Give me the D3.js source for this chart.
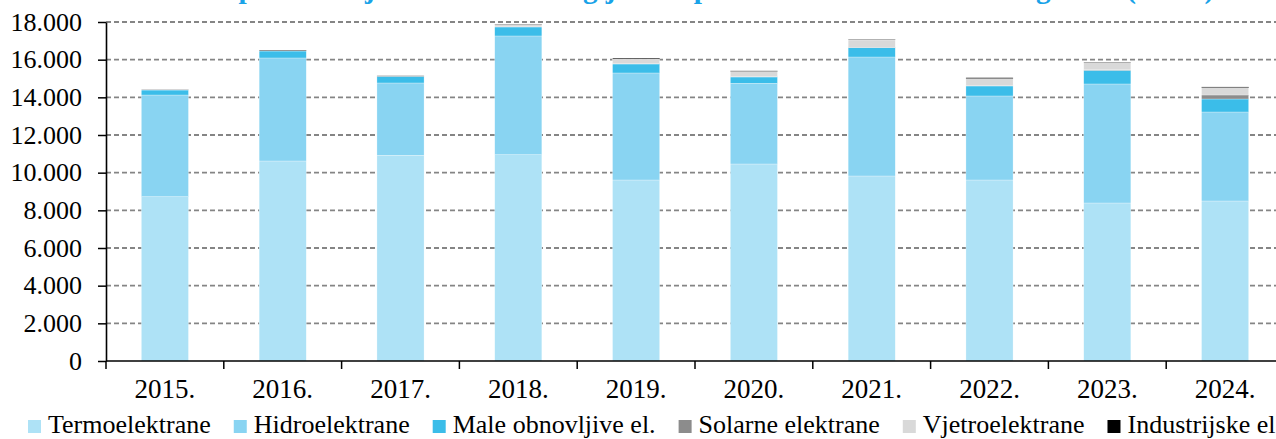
<!DOCTYPE html>
<html>
<head>
<meta charset="utf-8">
<script src="https://cdn.jsdelivr.net/npm/d3@7"></script>
<style>
  body { margin: 0; background: #fff; }
  svg { display: block; }
  svg text { font-family: "Liberation Serif", "Times New Roman", serif; }
</style>
</head>
<body>
<svg id="chart" width="1276" height="439"></svg>
<script>
const years = ['2015.', '2016.', '2017.', '2018.', '2019.', '2020.', '2021.', '2022.', '2023.', '2024.'];

// GWh
const termo = [8724, 10620, 10922, 10955, 9611, 10461, 9824, 9611, 8390, 8496];
const hidro = [5400, 5470, 3840, 6303, 5682, 4284, 6318, 4461, 6319, 4726];
const male = [266, 371, 355, 477, 477, 335, 495, 531, 727, 690];
const solar = [3, 5, 8, 10, 12, 15, 20, 20, 25, 213];
const vjetro = [0, 0, 0, 107, 250, 282, 391, 371, 372, 388];
const industrijske = [15, 40, 20, 20, 50, 30, 30, 50, 35, 40];

const seriesNames = ['Termoelektrane', 'Hidroelektrane', 'Male obnovljive el.', 'Solarne elektrane', 'Vjetroelektrane', 'Industrijske el.'];
const seriesColors = ['#aee2f6', '#89d4f2', '#3bbde9', '#8c8c8c', '#d9d9d9', '#000000'];
const yTicks = [0, 2000, 4000, 6000, 8000, 10000, 12000, 14000, 16000, 18000];

const title = 'Bruto proizvodnja električne energije BiH prema vrsti elektrana kroz godine (GWh)';

const width = 1276;
const serif = '"Liberation Serif", "Times New Roman", serif';
const svg = d3.select('#chart');

const allSeries = [termo, hidro, male, solar, vjetro, industrijske];
const table = years.map((yr, i) => {
  const row = { year: yr };
  seriesNames.forEach((n, k) => row[n] = allSeries[k][i]);
  return row;
});

const x = d3.scaleBand()
  .domain(years)
  .range([106, 1284])
  .paddingInner(0.6)
  .paddingOuter(0.3);
const y = d3.scaleLinear()
  .domain([0, 18000])
  .range([361, 22]);

const fmt = d3.formatLocale({ decimal: ',', thousands: '.', grouping: [3], currency: ['', ''] }).format(',d');

// title, mostly cut off at the top like in the original
svg.append('text')
  .attr('x', 158)
  .attr('y', -2)
  .attr('font-size', 29.3)
  .attr('font-weight', 'bold')
  .attr('fill', '#1aa3e8')
  .style('font-family', serif)
  .text(title);

// gridlines
svg.append('g')
  .selectAll('line')
  .data(yTicks.filter(d => d > 0))
  .join('line')
  .attr('x1', 106)
  .attr('x2', width)
  .attr('y1', d => y(d))
  .attr('y2', d => y(d))
  .attr('stroke', '#858585')
  .attr('stroke-width', 1.8)
  .attr('stroke-dasharray', '5,3');

// stacked bars
const stacked = d3.stack().keys(seriesNames)(table);
svg.append('g')
  .selectAll('g')
  .data(stacked)
  .join('g')
  .attr('fill', (d, i) => seriesColors[i])
  .selectAll('rect')
  .data(d => d)
  .join('rect')
  .attr('x', d => x(d.data.year))
  .attr('y', d => y(d[1]))
  .attr('width', x.bandwidth())
  .attr('height', d => y(d[0]) - y(d[1]))
  .attr('stroke', '#ffffff')
  .attr('stroke-width', 0.4)
  .attr('stroke-opacity', 0.7);

// y axis
const yAxis = svg.append('g')
  .attr('transform', 'translate(106,0)')
  .call(d3.axisLeft(y).tickValues(yTicks).tickSize(8).tickSizeOuter(0).tickPadding(16).tickFormat(fmt));
yAxis.select('.domain').attr('stroke', '#000').attr('stroke-width', 1.6);
yAxis.selectAll('.tick line').attr('stroke', '#000').attr('stroke-width', 1.5);
yAxis.selectAll('text')
  .attr('font-size', 26)
  .attr('fill', '#000')
  .style('font-family', serif);

// x axis: labels at band centres, ticks at band edges
const xAxis = svg.append('g')
  .attr('transform', 'translate(0,361)')
  .call(d3.axisBottom(x).tickSize(0).tickPadding(18));
xAxis.select('.domain').remove();
xAxis.selectAll('text')
  .attr('font-size', 27)
  .attr('fill', '#000')
  .style('font-family', serif);

svg.append('line')
  .attr('x1', 106).attr('x2', width)
  .attr('y1', 361).attr('y2', 361)
  .attr('stroke', '#000')
  .attr('stroke-width', 1.6);

svg.append('g')
  .selectAll('line')
  .data(years)
  .join('line')
  .attr('x1', d => x(d) - x.step() * 0.3)
  .attr('x2', d => x(d) - x.step() * 0.3)
  .attr('y1', 361)
  .attr('y2', 369)
  .attr('stroke', '#000')
  .attr('stroke-width', 1.5);

// legend, laid out left to right
const legend = svg.append('g').attr('transform', 'translate(0,433)');
let lx = 28;
seriesNames.forEach((name, i) => {
  legend.append('rect')
    .attr('x', lx)
    .attr('y', -13)
    .attr('width', 13)
    .attr('height', 13)
    .attr('fill', seriesColors[i]);
  const t = legend.append('text')
    .attr('x', lx + 20)
    .attr('y', 0)
    .attr('font-size', 26)
    .attr('fill', '#000')
    .style('font-family', serif)
    .text(name);
  lx += 20 + t.node().getComputedTextLength() + 23;
});
</script>
</body>
</html>
